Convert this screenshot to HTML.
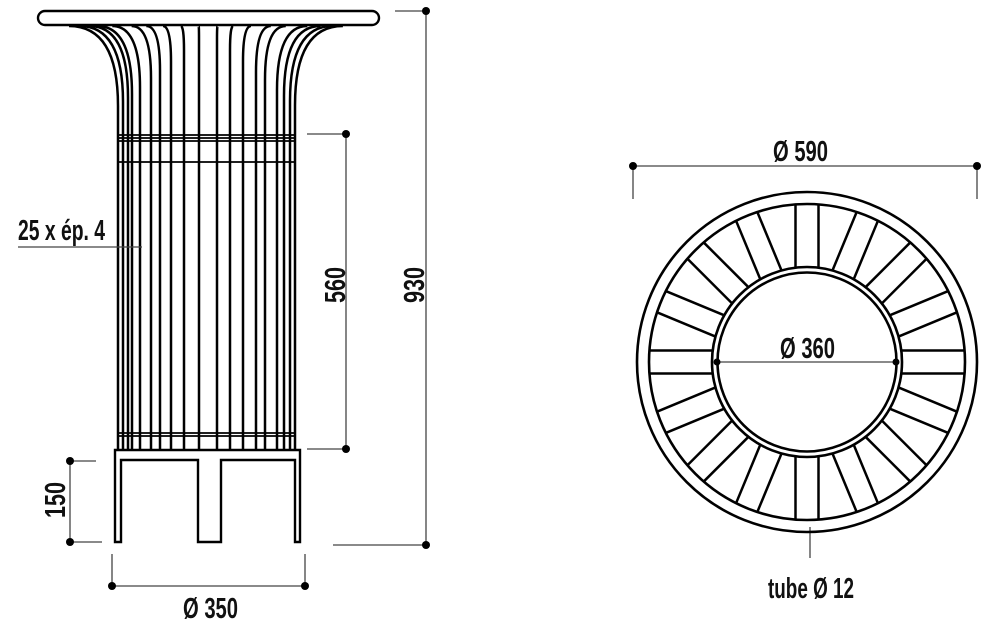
<!DOCTYPE html>
<html><head><meta charset="utf-8"><style>
html,body{margin:0;padding:0;background:#fff;}
svg{display:block}
text{font-family:"Liberation Sans Narrow","Liberation Sans",sans-serif;fill:#111;font-weight:bold;}
</style></head><body>
<svg id="s" width="1000" height="629" viewBox="0 0 1000 629" xmlns="http://www.w3.org/2000/svg">
<g id="bars" fill="none" stroke="#000" stroke-width="2.5"></g>
<rect x="38" y="11" width="341" height="14" rx="7" fill="#fff" stroke="#000" stroke-width="2.4"/>
<g stroke="#000" stroke-width="1.8">
<line x1="118" y1="135" x2="296" y2="135"/>
<line x1="118" y1="138" x2="296" y2="138"/>
<line x1="118" y1="141" x2="296" y2="141"/>
<line x1="118" y1="162" x2="296" y2="162"/>
<line x1="118" y1="433" x2="296" y2="433"/>
<line x1="118" y1="436" x2="296" y2="436"/>
</g>
<path d="M115 450 H300 V542 H295 V460 H221 V542 H198 V460 H121 V542 H115 Z" fill="#fff" stroke="#000" stroke-width="2.4"/>
<g stroke="#444" stroke-width="1.3" fill="none">
<line x1="395" y1="11" x2="426" y2="11"/><line x1="426" y1="11" x2="426" y2="545"/><line x1="333" y1="545" x2="426" y2="545"/>
<line x1="307" y1="134" x2="346" y2="134"/><line x1="346" y1="134" x2="346" y2="449"/><line x1="307" y1="449" x2="346" y2="449"/>
<line x1="70" y1="461" x2="96" y2="461"/><line x1="70" y1="461" x2="70" y2="542"/><line x1="70" y1="542" x2="102" y2="542"/>
<line x1="112" y1="554" x2="112" y2="586"/><line x1="305" y1="554" x2="305" y2="586"/><line x1="112" y1="586" x2="305" y2="586"/>
<line x1="18" y1="247" x2="142" y2="247"/>
<line x1="633" y1="166" x2="977" y2="166"/><line x1="633" y1="166" x2="633" y2="199"/><line x1="977" y1="166" x2="977" y2="199"/>
<line x1="717" y1="362" x2="896" y2="362"/>
<line x1="810" y1="527" x2="810" y2="558"/>
</g>
<g fill="#000">
<circle cx="426" cy="11" r="4"/><circle cx="426" cy="545" r="4"/>
<circle cx="346" cy="134" r="4"/><circle cx="346" cy="449" r="4"/>
<circle cx="70" cy="461" r="4"/><circle cx="70" cy="542" r="4"/>
<circle cx="112" cy="586" r="4"/><circle cx="305" cy="586" r="4"/>
<circle cx="633" cy="166" r="4"/><circle cx="977" cy="166" r="4"/>
<circle cx="717" cy="362" r="3.5"/><circle cx="896" cy="362" r="3.5"/>
</g>
<g id="slats" stroke="#000" stroke-width="2.5"></g>
<g fill="none" stroke="#000" stroke-width="2.6">
<circle cx="807" cy="362" r="170"/>
<circle cx="807" cy="362" r="158"/>
<circle cx="807" cy="362" r="95"/>
<circle cx="807" cy="362" r="89.5"/>
</g>
<text x="18" y="240" font-size="29" textLength="87" lengthAdjust="spacingAndGlyphs">25 x ép. 4</text>
<text transform="translate(345,285) rotate(-90)" font-size="29" text-anchor="middle" textLength="36" lengthAdjust="spacingAndGlyphs">560</text>
<text transform="translate(424,285) rotate(-90)" font-size="29" text-anchor="middle" textLength="36" lengthAdjust="spacingAndGlyphs">930</text>
<text transform="translate(65,500) rotate(-90)" font-size="29" text-anchor="middle" textLength="36" lengthAdjust="spacingAndGlyphs">150</text>
<text x="183" y="618" font-size="29" textLength="55" lengthAdjust="spacingAndGlyphs">Ø 350</text>
<text x="773" y="161" font-size="29" textLength="55" lengthAdjust="spacingAndGlyphs">Ø 590</text>
<text x="780" y="358" font-size="29" textLength="55" lengthAdjust="spacingAndGlyphs">Ø 360</text>
<text x="768" y="598" font-size="29" textLength="86" lengthAdjust="spacingAndGlyphs">tube Ø 12</text>
</svg>
<script>
(function(){
var NS="http://www.w3.org/2000/svg";
var bars=document.getElementById("bars");
var xs=[118,123,128,132,140,151,160,171,184,199,217,230,243,256,265,277,284,290,295];
var c=207;
xs.forEach(function(x){
  var off=x-c, a=Math.abs(off)/89;
  var xt=c+off*(1+0.55*a);
  var yb=26+75*a+5;
  var p=document.createElementNS(NS,"path");
  p.setAttribute("d","M"+x+" 450 V"+yb+" Q"+x+" 26 "+xt.toFixed(1)+" 26");
  bars.appendChild(p);
});
var g=document.getElementById("slats");
var cx=807,cy=362,h=11.5;
for(var i=0;i<16;i++){
  var th=i*Math.PI/8;
  var ux=Math.sin(th),uy=-Math.cos(th),px=-uy,py=ux;
  var t1=Math.sqrt(95*95-h*h),t2=Math.sqrt(158*158-h*h);
  [-h,h].forEach(function(o){
    var l=document.createElementNS(NS,"line");
    l.setAttribute("x1",cx+ux*t1+px*o);l.setAttribute("y1",cy+uy*t1+py*o);
    l.setAttribute("x2",cx+ux*t2+px*o);l.setAttribute("y2",cy+uy*t2+py*o);
    g.appendChild(l);
  });
}
})();
</script>
</body></html>
